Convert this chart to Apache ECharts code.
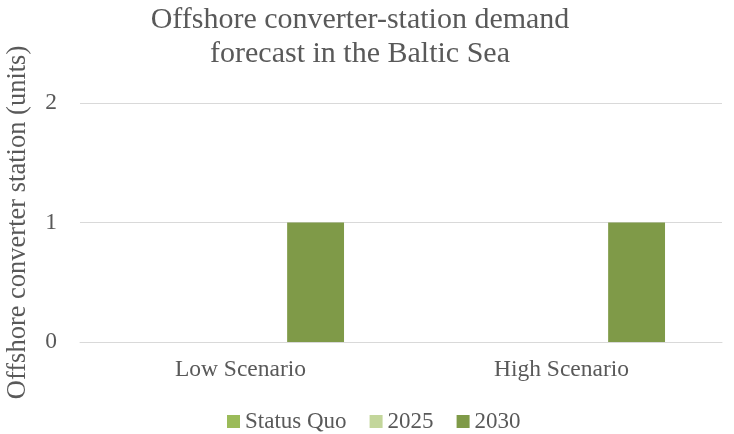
<!DOCTYPE html>
<html>
<head>
<meta charset="utf-8">
<script src="https://cdn.jsdelivr.net/npm/echarts@6/dist/echarts.min.js"></script>
<style>
  html, body { margin: 0; padding: 0; background: #fff; }
  #chart { width: 734px; height: 434px; }
</style>
</head>
<body>
<div id="chart"></div>
<script>
const categories = ['Low Scenario', 'High Scenario'];
const statusQuo = [0, 0];
const y2025 = [0, 0];
const y2030 = [1, 1];
const yTicks = [0, 1, 2];

const font = '"Liberation Serif", "Times New Roman", serif';
const chart = echarts.init(document.getElementById('chart'));

chart.setOption({
    animation: false,
    textStyle: { fontFamily: font, color: '#595959' },
    title: {
        text: 'Offshore converter-station demand\nforecast in the Baltic Sea',
        left: 355,
        textAlign: 'center',
        top: -2,
        textStyle: { fontFamily: font, fontSize: 30, fontWeight: 'normal', color: '#595959', lineHeight: 34 }
    },
    legend: {
        top: 410,
        padding: 0,
        left: 227,
        itemWidth: 13,
        itemHeight: 13,
        itemGap: 23,
        icon: 'rect',
        textStyle: { fontFamily: font, fontSize: 23, color: '#595959' },
        data: ['Status Quo', '2025', '2030']
    },
    grid: { left: 80, right: 12, top: 103, bottom: 92, outerBoundsMode: 'none' },
    xAxis: {
        type: 'category',
        data: categories,
        axisLine: { lineStyle: { color: '#d9d9d9', width: 1 } },
        axisTick: { show: false },
        axisLabel: { fontFamily: font, fontSize: 23.5, color: '#595959', margin: 16 }
    },
    yAxis: {
        type: 'value',
        min: yTicks[0],
        max: yTicks[yTicks.length - 1],
        interval: 1,
        name: 'Offshore converter station (units)',
        nameLocation: 'middle',
        nameGap: 48,
        nameTextStyle: { fontFamily: font, fontSize: 26.5, color: '#595959' },
        axisLine: { show: false },
        axisTick: { show: false },
        axisLabel: { fontFamily: font, fontSize: 23.5, color: '#595959', margin: 23 },
        splitLine: { lineStyle: { color: '#d9d9d9', width: 1 } }
    },
    series: [
        { name: 'Status Quo', type: 'bar', data: statusQuo, itemStyle: { color: '#9bbb59' }, barGap: '32%', barCategoryGap: '35.5%' },
        { name: '2025', type: 'bar', data: y2025, itemStyle: { color: '#c3d69b' } },
        { name: '2030', type: 'bar', data: y2030, itemStyle: { color: '#7f9a48' } }
    ]
});
</script>
</body>
</html>
